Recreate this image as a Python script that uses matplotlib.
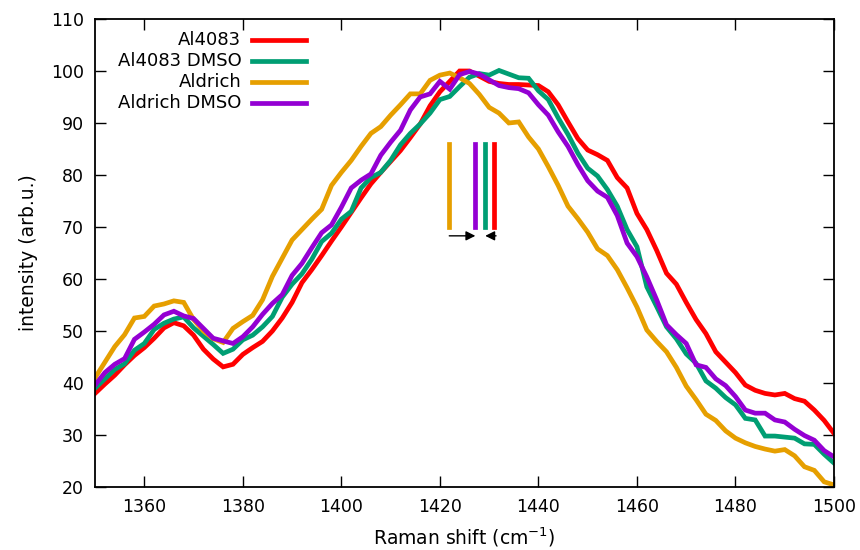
import numpy as np
import matplotlib.pyplot as plt
from matplotlib.lines import Line2D

# Raman shift axis (cm^-1), every 2 cm^-1
shift = np.arange(1350, 1501, 2)

al4083 = [38.0, 39.8, 41.5, 43.5, 45.3, 46.8, 48.6, 50.6, 51.6, 51.0,
          49.2, 46.5, 44.6, 43.1, 43.6, 45.5, 46.8, 48.0, 50.0, 52.5,
          55.5, 59.3, 61.8, 64.5, 67.3, 70.0, 72.8, 75.6, 78.3, 80.5,
          82.6, 84.7, 87.2, 89.8, 93.3, 96.0, 98.0, 100.0, 100.0, 99.0,
          98.0, 97.6, 97.4, 97.4, 97.3, 97.2, 96.0, 93.5, 90.2, 87.0,
          84.8, 83.9, 82.8, 79.5, 77.5, 72.6, 69.5, 65.5, 61.1, 59.0,
          55.5, 52.2, 49.5, 46.0, 44.0, 42.0, 39.6, 38.6, 38.0, 37.7,
          38.0, 37.0, 36.5, 34.8, 32.8, 30.3]

al4083_dmso = [39.0, 40.8, 42.6, 43.7, 46.3, 47.6, 50.3, 51.5, 52.3, 52.7,
               50.6, 49.0, 47.4, 45.7, 46.5, 48.3, 49.2, 50.8, 52.8, 56.5,
               59.0, 61.0, 63.8, 67.2, 68.8, 71.5, 73.0, 77.5, 79.5, 80.5,
               82.8, 85.8, 88.0, 89.8, 91.9, 94.5, 95.1, 97.0, 98.8, 99.5,
               99.2, 100.1, 99.4, 98.7, 98.6, 96.2, 94.5, 91.0, 87.8, 84.2,
               81.3, 79.8, 77.2, 74.0, 69.5, 66.2, 58.5, 54.7, 50.8, 48.5,
               45.6, 43.8, 40.4, 39.0, 37.2, 35.8, 33.2, 32.9, 29.8, 29.8,
               29.6, 29.4, 28.3, 28.2, 26.3, 24.6]

aldrich = [41.0, 44.0, 47.0, 49.3, 52.5, 52.8, 54.8, 55.2, 55.8, 55.5,
           52.2, 50.0, 48.5, 47.8, 50.5, 51.8, 53.0, 56.0, 60.5, 64.0,
           67.5, 69.5, 71.5, 73.4, 78.0, 80.5, 82.8, 85.5, 88.0, 89.3,
           91.5, 93.5, 95.6, 95.6, 98.2, 99.2, 99.6, 98.7, 97.6, 95.5,
           93.0, 91.9, 90.0, 90.2, 87.3, 85.0, 81.6, 78.0, 74.0, 71.6,
           69.0, 65.8, 64.5, 61.8, 58.3, 54.6, 50.2, 48.0, 46.0, 43.0,
           39.4, 36.8, 34.0, 32.8, 30.8, 29.4, 28.5, 27.8, 27.3, 26.9,
           27.2, 26.0, 23.9, 23.2, 21.0, 20.4]

aldrich_dmso = [39.6, 42.0, 43.6, 44.7, 48.4, 49.8, 51.3, 53.1, 53.8, 52.9,
                52.4, 50.5, 48.6, 48.1, 47.6, 48.9, 50.8, 53.2, 55.3, 57.0,
                60.7, 63.0, 66.0, 68.9, 70.4, 73.8, 77.5, 79.0, 80.2, 83.8,
                86.3, 88.6, 92.5, 95.0, 95.6, 98.0, 96.5, 99.3, 99.9, 99.4,
                98.3, 97.2, 96.8, 96.6, 95.8, 93.5, 91.5, 88.3, 85.5, 82.0,
                78.9, 76.9, 75.7, 72.2, 66.9, 64.3, 60.4, 56.0, 51.2, 49.3,
                47.6, 43.5, 43.0, 40.8, 39.5, 37.4, 34.8, 34.2, 34.2, 32.9,
                32.5, 31.1, 29.9, 29.0, 27.0, 25.8]

labels = ['Al4083', 'Al4083 DMSO', 'Aldrich', 'Aldrich DMSO']
colors = ['#ff0000', '#009e73', '#e69f00', '#9400d3']
series = [al4083, al4083_dmso, aldrich, aldrich_dmso]

# peak positions marked by vertical bars
peak_pos = [1431.0, 1429.2, 1421.9, 1427.2]
bar_lo, bar_hi = 70, 86
arrow_y = 68.3

fig = plt.figure(figsize=(8.6, 5.5), dpi=100)
ax = fig.add_axes([0.1105, 0.1145, 0.8593, 0.851])

for y, c in zip(series, colors):
    ax.plot(shift, y, color=c, lw=3.4, solid_joinstyle='miter')

for p, c in zip(peak_pos, colors):
    ax.plot([p, p], [bar_lo, bar_hi], color=c, lw=3.4)

arrow = dict(arrowstyle='-|>', color='black', lw=1.0, mutation_scale=14,
             shrinkA=0, shrinkB=0)
ax.annotate('', xy=(peak_pos[3], arrow_y), xytext=(peak_pos[2], arrow_y),
            arrowprops=arrow)
ax.annotate('', xy=(peak_pos[1], arrow_y), xytext=(peak_pos[0] + 0.4, arrow_y),
            arrowprops=arrow)

ax.set_xlim(1350, 1500)
ax.set_ylim(20, 110)
ax.set_xticks(np.arange(1360, 1501, 20))
ax.set_yticks(np.arange(20, 111, 10))
ax.tick_params(direction='in', length=8, width=1, top=True, right=True,
               labelsize=12.5, pad=8)
for s in ax.spines.values():
    s.set_linewidth(1.3)

ax.set_xlabel('Raman shift (cm$^{\\mathregular{-1}}$)', fontsize=13.5, labelpad=7)
ax.set_ylabel('intensity (arb.u.)', fontsize=13.5, labelpad=9)

# gnuplot-like key: right-aligned text, sample line to the right
for i, (lab, c) in enumerate(zip(labels, colors)):
    yk = 0.955 - i * 0.0445
    ax.text(0.198, yk, lab, transform=ax.transAxes, ha='right', va='center',
            fontsize=13)
    ax.add_line(Line2D([0.213, 0.285], [yk, yk], transform=ax.transAxes,
                       color=c, lw=3.4))

fig.savefig('out.png', dpi=100)
